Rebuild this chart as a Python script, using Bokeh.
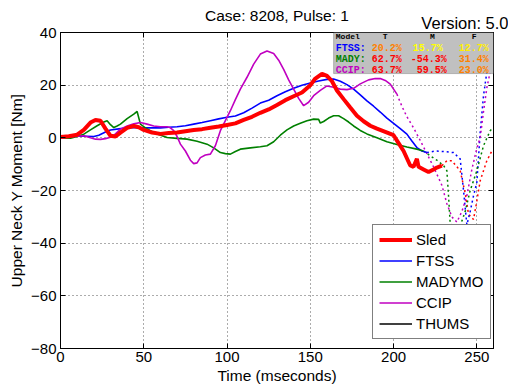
from bokeh.plotting import figure
from bokeh.models import (Range1d, LinearAxis, FixedTicker, Label, BoxAnnotation,
                          Legend, LegendItem)
from bokeh.embed import file_html
from bokeh.resources import INLINE

# ---------------- data ----------------
sled_t = [0, 5, 10, 14, 18, 21, 24, 27, 30, 33, 36, 40, 44, 47, 50, 55, 60, 65, 70, 75, 80, 85, 90, 95,
          100, 105, 110, 115, 120, 125, 130, 135, 140, 145, 150, 153, 157, 160, 163, 166, 170, 174, 178,
          182, 186, 190, 195, 200, 203, 206, 210, 212, 214, 215, 218, 221, 224, 226, 229]
sled_v = [0.3, 0.6, 1.2, 3, 5.8, 6.8, 6.5, 3.5, 0.8, 0.5, 2, 3.8, 4.5, 4, 3, 2, 1.5, 1.8, 2, 2.5, 3, 3.3,
          3.8, 4.3, 4.9, 5.5, 6.8, 8, 9.5, 10.8, 12.5, 14.3, 15.8, 17.2, 20, 22.5, 24.3, 23.5, 21.5, 18,
          14.7, 11.5, 8.4, 6.3, 4.6, 3.5, 2.3, 1, -2, -5, -10.5, -11, -8, -11, -12, -13, -12, -11.3, -10.6]

ftss_t = [0, 5, 10, 15, 20, 23, 27, 30, 35, 40, 45, 50, 55, 60, 65, 70, 75, 80, 85, 90, 95, 100, 105,
          110, 115, 120, 125, 130, 135, 140, 145, 150, 155, 160, 164, 168, 172, 176, 180, 184, 188, 192,
          196, 200, 204, 208, 211, 214, 217, 220]
ftss_v = [0, 0.3, 0.7, 0.6, 0.5, 1, 2.2, 3, 3.4, 3.8, 3.9, 3.8, 3.8, 3.8, 4, 4.2, 4.6, 5.2, 5.8, 6.5,
          7.2, 7.8, 8.3, 9.5, 11.3, 13.2, 14.3, 16, 17.5, 18.8, 20, 20.8, 21.6, 22.2, 22.3, 21.5, 20.2,
          18.5, 16.3, 14, 12, 9.8, 7.5, 5.5, 3.5, 1.4, -1.2, -3.7, -5, -5.6]

mady_t = [0, 6, 10, 14, 18, 22, 26, 28, 30, 32, 34, 36, 40, 44, 46, 48, 51, 54, 58, 64, 70, 76, 82, 88,
          92, 96, 99, 102, 105, 108, 114, 120, 124, 128, 132, 136, 140, 144, 148, 152, 155, 156, 158,
          161, 164, 167, 170, 173, 176, 180, 184, 190, 196, 202, 208, 214, 218]
mady_v = [0, -0.1, 0.5, 1.4, 3, 4.6, 6, 6.5, 5, 3.9, 4.5, 5.2, 7.3, 9, 10, 5.2, 3.8, 2.7, 1.5, 0.1, -0.2,
          -0.5, -1.3, -2.4, -3.8, -5.6, -6, -6.2, -5.2, -4.3, -3.8, -3.4, -3, -1.5, 1, 3, 4.5, 5.5, 6.5,
          7.1, 7, 5.6, 6.2, 7.5, 8.4, 8.4, 7.3, 6, 4.5, 2.8, 1.5, 0, -1.5, -2.5, -3.5, -4.3, -5]

ccip_t = [0, 5, 10, 14, 18, 21, 24, 27, 30, 33, 36, 40, 44, 48, 52, 56, 60, 64, 66, 68, 70, 72, 75, 78,
          80, 82, 84, 87, 90, 93, 96, 99, 102, 105, 108, 112, 116, 120, 124, 128, 131, 134, 137, 140,
          143, 146, 149, 152, 156, 160, 164, 168, 172, 176, 180, 185, 189, 192, 195, 198, 202]
ccip_v = [0, 0.3, 0.6, 0.8, 0, -0.5, -0.6, -0.3, 0.2, 1.5, 3.3, 4.5, 5.3, 5.8, 5.2, 4.5, 4.2, 4.2, 3.8,
          2.7, 0.5, -2.4, -5, -8.5, -9.8, -9.5, -7.5, -6.5, -6.2, -3, 2.7, 6.5, 10.3, 14.5, 18.5, 23, 28,
          31.8, 33, 32, 29.5, 26, 22, 18.5, 15, 12.2, 13.5, 16, 18, 19.7, 19.2, 18.5, 18.3, 18.8, 20.5,
          22, 22.5, 22.5, 21.8, 20.4, 16.6]

thums_t = [float("nan")]
thums_v = [float("nan")]

# dotted continuations
sled_ext_t = [229, 232, 235, 240, 243, 245, 248, 250, 252, 256, 259]
sled_ext_v = [-10.6, -8.7, -8.7, -12.5, -21, -29, -31, -24, -16.3, -8.7, -5]
ftss_ext_t = [220, 225, 230, 236, 240, 242, 244, 246, 248, 250, 252, 254, 256, 258, 259]
ftss_ext_v = [-5.6, -5, -5.2, -5.6, -8, -20, -33, -28, -22, -17, 2, 16, 25, 35, 40]
mady_ext_t = [218, 222, 226, 230, 232, 233, 234, 237, 240, 243, 246, 250, 254, 258, 260]
mady_ext_v = [-5, -6.8, -8.5, -10.5, -12.5, -22, -32.7, -34, -33.4, -28, -20, -12.5, -3, 2.7, 4]
ccip_ext_t = [202, 205, 208, 212, 216, 220, 224, 229, 232, 235, 238, 241, 244, 247, 250, 252, 254, 256, 258, 260]
ccip_ext_v = [16.6, 12, 8, 3.8, -1, -6, -11, -18, -25, -30, -32, -28, -22, -12, -4, 0, 10, 19, 25, 32]

x_ticks = [0, 50, 100, 150, 200, 250]
y_ticks = [-80, -60, -40, -20, 0, 20, 40]
x_end = 260

title_text = "Case: 8208, Pulse: 1"
version_text = "Version: 5.0"

table_header = ["Model", "T", "M", "F"]
table_models = ["FTSS:", "MADY:", "CCIP:"]
table_model_colors = ["#0000ff", "#008000", "#c000c0"]
table_T = ["20.2%", "62.7%", "63.7%"]
table_M = ["15.7%", "-54.3%", "59.5%"]
table_F = ["12.7%", "31.4%", "23.0%"]
table_T_colors = ["#ff8000", "#ff0000", "#ff0000"]
table_M_colors = ["#ffff00", "#ff0000", "#ff0000"]
table_F_colors = ["#ffee00", "#ff8000", "#ff8000"]

FONT = "Liberation Sans"
MONO = "Liberation Mono"

p = figure(width=508, height=391, x_range=Range1d(0, x_end), y_range=Range1d(-80, 40),
           output_backend="svg", toolbar_location=None,
           min_border_left=60, min_border_right=15, min_border_top=32, min_border_bottom=43)
p.background_fill_color = "white"
p.border_fill_color = "white"
p.outline_line_color = "black"
p.outline_line_width = 1

for ax in [p.xaxis[0], p.yaxis[0]]:
    ax.major_tick_in = 5
    ax.major_tick_out = 0
    ax.minor_tick_line_color = None
    ax.major_label_text_font = FONT
    ax.major_label_text_font_size = "15px"
    ax.major_label_text_color = "black"
    ax.axis_label_text_font = FONT
    ax.axis_label_text_font_size = "15.5px"
    ax.axis_label_text_font_style = "normal"
    ax.axis_label_text_color = "black"
    ax.axis_line_color = "black"
    ax.major_tick_line_color = "black"
p.xaxis.ticker = FixedTicker(ticks=x_ticks)
p.yaxis.ticker = FixedTicker(ticks=y_ticks)
p.xaxis.axis_label = "Time (mseconds)"
p.yaxis.axis_label = "Upper Neck Y Moment [Nm]"
p.xaxis.axis_label_standoff = 2
p.yaxis.axis_label_standoff = 3
p.xaxis.major_label_standoff = 3
p.yaxis.major_label_standoff = 4

# top axis: ticks inside, the version note as the label of the right-end tick, title as axis label
top_overrides = {t: "" for t in x_ticks}
top_overrides[x_end] = version_text
top = LinearAxis(ticker=FixedTicker(ticks=x_ticks + [x_end]), major_tick_in=5, major_tick_out=0,
                 minor_tick_line_color=None, major_label_overrides=top_overrides,
                 major_label_text_font=FONT, major_label_text_font_size="16.5px",
                 major_label_text_color="black",
                 major_label_text_align="right", major_label_text_baseline="alphabetic",
                 major_label_standoff=1, major_label_orientation="horizontal",
                 axis_label=title_text, axis_label_text_font=FONT,
                 axis_label_text_font_size="15.5px", axis_label_text_font_style="normal",
                 axis_label_text_color="black",
                 axis_label_standoff=-13,
                 axis_line_color="black", major_tick_line_color="black")
p.add_layout(top, "above")

right = LinearAxis(ticker=FixedTicker(ticks=y_ticks), major_tick_in=5, major_tick_out=0,
                   minor_tick_line_color=None, major_label_overrides={t: "" for t in y_ticks},
                   major_label_standoff=0, axis_line_color="black", major_tick_line_color="black")
p.add_layout(right, "right")

p.xgrid.ticker = FixedTicker(ticks=x_ticks)
p.ygrid.ticker = FixedTicker(ticks=y_ticks)
for g in [p.xgrid[0], p.ygrid[0]]:
    g.grid_line_color = "#303030"
    g.grid_line_dash = "1 3"
    g.grid_line_width = 1
    g.grid_line_alpha = 0.8

# dotted extensions
for t, v, c in [(sled_ext_t, sled_ext_v, "#ff0000"), (ftss_ext_t, ftss_ext_v, "#0000ff"),
                (mady_ext_t, mady_ext_v, "#008000"), (ccip_ext_t, ccip_ext_v, "#c000c0")]:
    p.line(t, v, line_color=c, line_width=1.5, line_dash="2 3")

r_ftss = p.line(ftss_t, ftss_v, line_color="#0000ff", line_width=1.6)
r_mady = p.line(mady_t, mady_v, line_color="#008000", line_width=1.6)
r_ccip = p.line(ccip_t, ccip_v, line_color="#c000c0", line_width=1.6)
r_sled = p.line(sled_t, sled_v, line_color="#ff0000", line_width=4)
r_thums = p.line(thums_t, thums_v, line_color="black", line_width=1.6)

legend = Legend(items=[LegendItem(label="Sled", renderers=[r_sled]),
                       LegendItem(label="FTSS", renderers=[r_ftss]),
                       LegendItem(label="MADYMO", renderers=[r_mady]),
                       LegendItem(label="CCIP", renderers=[r_ccip]),
                       LegendItem(label="THUMS", renderers=[r_thums])],
                location=(312, 9), label_text_font=FONT, label_text_font_size="15px",
                label_text_color="black",
                label_height=17, glyph_height=17, glyph_width=33, label_standoff=4,
                spacing=4, padding=6, margin=0,
                border_line_color="black", border_line_width=1,
                background_fill_color="white", background_fill_alpha=1)
p.add_layout(legend, "center")

# table box
p.add_layout(BoxAnnotation(left=164, right=x_end, top=40, bottom=24.4, fill_color="#c0c0c0",
                           fill_alpha=1, line_color="#404040", line_width=1))
hx = [165.3, 193.5, 221.8, 247]
for txt, x in zip(table_header, hx):
    p.add_layout(Label(x=x, y=38.6, text=txt, text_font=MONO, text_font_size="8px",
                       text_baseline="alphabetic",
                       text_font_style="bold", text_color="black"))
row_y = [33.8, 29.6, 25.4]
mx = [211.5, 210.3, 213.9]
for i in range(3):
    kw = dict(y=row_y[i], text_font=MONO, text_font_size="10px", text_font_style="bold",
              text_baseline="alphabetic")
    p.add_layout(Label(x=165.3, text=table_models[i], text_color=table_model_colors[i], **kw))
    p.add_layout(Label(x=186.9, text=table_T[i], text_color=table_T_colors[i], **kw))
    p.add_layout(Label(x=mx[i], text=table_M[i], text_color=table_M_colors[i], **kw))
    p.add_layout(Label(x=239.2, text=table_F[i], text_color=table_F_colors[i], **kw))

open("out.html", "w").write(file_html(p, INLINE))
